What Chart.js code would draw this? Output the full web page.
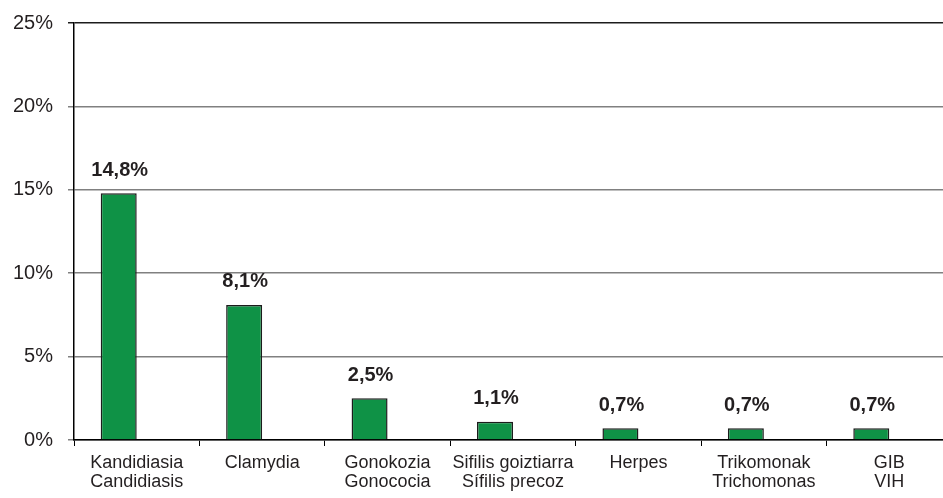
<!DOCTYPE html>
<html>
<head>
<meta charset="utf-8">
<script src="https://cdn.jsdelivr.net/npm/chart.js@4/dist/chart.umd.min.js"></script>
<style>
  html, body { margin: 0; padding: 0; background: #fff; overflow: hidden; }
  #wrap { width: 960px; height: 498px; }
</style>
</head>
<body>
<div id="wrap"><canvas id="gaixotasunak" width="960" height="498"></canvas></div>
<script>
// categories (Basque / Spanish)
var categories = [
  ["Kandidiasia", "Candidiasis"],
  ["Clamydia"],
  ["Gonokozia", "Gonococia"],
  ["Sifilis goiztiarra", "Sífilis precoz"],
  ["Herpes"],
  ["Trikomonak", "Trichomonas"],
  ["GIB", "VIH"]
];
var percentages = [14.8, 8.1, 2.5, 1.1, 0.7, 0.7, 0.7];
// empty second series (keeps the Excel-style offset of the bars)
var emptySeries = [0, 0, 0, 0, 0, 0, 0];
var yTicks = [0, 5, 10, 15, 20, 25];

var FONT = "'Liberation Sans', Arial, sans-serif";

// draw the value labels above the bars
var valueLabels = {
  id: 'valueLabels',
  afterDatasetsDraw: function(chart) {
    var ctx = chart.ctx;
    var meta = chart.getDatasetMeta(0);
    ctx.save();
    ctx.font = "bold 20px " + FONT;
    ctx.fillStyle = "#231f20";
    ctx.textAlign = "center";
    ctx.textBaseline = "middle";
    meta.data.forEach(function(bar, i) {
      var txt = percentages[i].toFixed(1).replace('.', ',') + '%';
      ctx.fillText(txt, bar.x + 1, bar.y - 23);
    });
    ctx.restore();
  }
};

var ctx = document.getElementById("gaixotasunak");
var myChart = new Chart(ctx, {
  type: 'bar',
  data: {
    labels: categories,
    datasets: [{
      data: percentages,
      backgroundColor: '#0f9246',
      borderColor: '#1c1c1c',
      borderWidth: 1.5,
      categoryPercentage: 0.574,
      barPercentage: 1
    }, {
      data: emptySeries,
      backgroundColor: 'rgba(0,0,0,0)',
      borderWidth: 0,
      categoryPercentage: 0.574,
      barPercentage: 1
    }]
  },
  options: {
    responsive: false,
    animation: false,
    events: [],
    layout: { padding: { top: 21, right: 8, left: 0, bottom: 0 } },
    plugins: {
      legend: { display: false },
      tooltip: { enabled: false }
    },
    scales: {
      x: {
        grid: {
          drawOnChartArea: false,
          drawTicks: true,
          tickLength: 6,
          color: '#000',
          lineWidth: 1
        },
        border: { display: true, color: '#000', width: 1.5 },
        ticks: {
          color: '#231f20',
          font: { family: FONT, size: 18, lineHeight: 1.05 },
          padding: 8,
          maxRotation: 0,
          autoSkip: false
        },
        afterFit: function(scale) { scale.height = 58; }
      },
      y: {
        min: 0,
        max: 25,
        afterBuildTicks: function(scale) {
          scale.ticks = yTicks.map(function(v) { return { value: v }; });
        },
        grid: {
          color: function(c) { return c.tick && c.tick.value === 25 ? '#1c1c1c' : '#808080'; },
          lineWidth: 1.5,
          tickLength: 6,
          drawTicks: true
        },
        border: { display: true, color: '#000', width: 1.5 },
        ticks: {
          color: '#231f20',
          font: { family: FONT, size: 20, lineHeight: 0.8 },
          padding: 15,
          callback: function(v) { return v + '%'; }
        },
        afterFit: function(scale) { scale.width = 74; }
      }
    }
  },
  plugins: [valueLabels]
});
</script>
</body>
</html>
